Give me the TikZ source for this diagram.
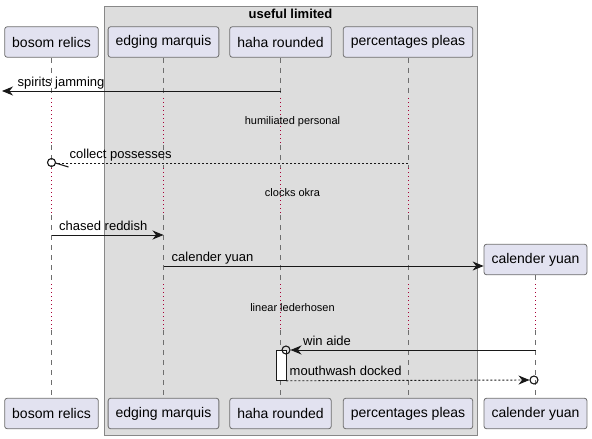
\documentclass[tikz,border=0pt]{standalone}
\usepackage{fontspec}
\setmainfont{Liberation Sans}
\usetikzlibrary{arrows.meta, positioning}
\definecolor{umlPart}{RGB}{226,226,240}
\definecolor{umlLine}{RGB}{ 24, 24, 24}
\definecolor{umlEdge}{RGB}{110,110,110}
\definecolor{umlGroup}{RGB}{221,221,221}
\definecolor{umlFrame}{RGB}{136,136,136}
\definecolor{umlDelay}{RGB}{168,  0, 54}

\begin{document}
\begin{tikzpicture}[x=1pt, y=-1pt,
    part/.style={draw=umlEdge, fill=umlPart, rounded corners=2.5pt, line width=0.8pt,
                 minimum height=30.5pt, inner xsep=7.5pt, font=\fontsize{14}{16}\selectfont},
    life/.style={draw=umlEdge, line width=0.7pt, dash pattern=on 5pt off 5pt},
    delay/.style={draw=umlDelay, line width=1pt, dash pattern=on 1pt off 3pt},
    msg/.style={draw=umlLine, line width=0.9pt},
    reply/.style={msg, dash pattern=on 2pt off 2pt},
    tip/.style={-{Stealth[length=11pt, width=9pt, inset=3.5pt]}},
    lbl/.style={inner sep=0pt, anchor=base west, font=\fontsize{13}{15}\selectfont},
    note/.style={inner sep=0pt, anchor=base, font=\fontsize{11}{13}\selectfont},
    lost/.style={draw=umlLine, line width=1.1pt}
  ]
  \useasboundingbox (0,0) rectangle (592,439);
  % box round the grouped participants
  \draw[fill=umlGroup, draw=umlFrame, line width=1pt] (104,6) rectangle (477,435);
  \node[inner sep=0pt, anchor=base, font=\fontsize{13}{15}\selectfont\bfseries] (boxTitle) at (290.5,18) {useful limited};
  % participants, top and bottom
  \node[part] (bosomT)  at (51.5,42)  {bosom relics};
  \node[part] (edgingT) at (163.5,42) {edging marquis};
  \node[part] (hahaT)   at (280.5,42) {haha rounded};
  \node[part] (pleasT)  at (408,42)   {percentages pleas};
  \node[part] (bosomB)  at (51.5,413.5)  {bosom relics};
  \node[part] (edgingB) at (163.5,413.5) {edging marquis};
  \node[part] (hahaB)   at (280.5,413.5) {haha rounded};
  \node[part] (pleasB)  at (408,413.5)   {percentages pleas};
  \node[part] (calT) at (535.5,259.5) {calender yuan};
  \node[part] (calB) at (535.5,413.5) {calender yuan};
  % lifelines, dotted where the delays are
  \foreach \p in {bosom,edging,haha,pleas} {
    \foreach \a/\b in {57.5/98,145/168,215/284,330/398}
      \draw[life] (\p T |- 0,\a) -- (\p T |- 0,\b);
    \foreach \a/\b in {98/145,168/215,284/330}
      \draw[delay] (\p T |- 0,\a) -- (\p T |- 0,\b);
  }
  \draw[life] (calT.south) -- (calT |- 0,284);
  \draw[delay] (calT |- 0,284) -- (calT |- 0,330);
  \draw[life] (calT |- 0,330) -- (calB.north);
  % delay texts
  \node[note] (delayA) at (292.5,124.5) {humiliated personal};
  \node[note] (delayB) at (292.5,196)   {clocks okra};
  \node[note] (delayC) at (292.5,311)   {linear lederhosen};
  % spirits jamming, lost to the left
  \coordinate (lostA) at (2,91);
  \draw[msg, tip] (hahaT |- 0,91) -- (lostA);
  \node[lbl] (msgA) at (17.5,86) {spirits jamming};
  % collect possesses
  \coordinate (cpTip) at (55.5,163);
  \draw[reply] (pleasT |- 0,163) -- (cpTip);
  \draw[lost] (cpTip) -- ++(13,4);
  \draw[lost] (bosomT |- 0,162.5) circle (4pt);
  \node[lbl] (msgB) at (69.5,158.5) {collect possesses};
  % chased reddish
  \draw[msg, tip] (bosomT |- 0,235) -- (edgingT |- 0,235);
  \node[lbl] (msgC) at (59,230) {chased reddish};
  % calender yuan is created
  \draw[msg, tip] (edgingT |- 0,266) -- (calT.west |- 0,266);
  \node[lbl] (msgD) at (171.5,261) {calender yuan};
  % win aide
  \coordinate (waTip) at (290.5,350);
  \draw[msg, tip] (calT |- 0,350) -- (waTip);
  \node[lbl] (msgE) at (303,345) {win aide};
  % activation on haha rounded
  \node[draw=umlLine, fill=white, line width=0.8pt, minimum width=10pt, minimum height=30pt,
        inner sep=0pt, anchor=north] (act) at (281,350) {};
  \draw[lost] (286,350) circle (4pt);
  % mouthwash docked
  \coordinate (mdTip) at (529.5,380);
  \draw[reply, tip] (act.south east) -- (mdTip);
  \draw[lost] (534,380) circle (4pt);
  \node[lbl] (msgF) at (289.5,375) {mouthwash docked};
\end{tikzpicture}
\end{document}
